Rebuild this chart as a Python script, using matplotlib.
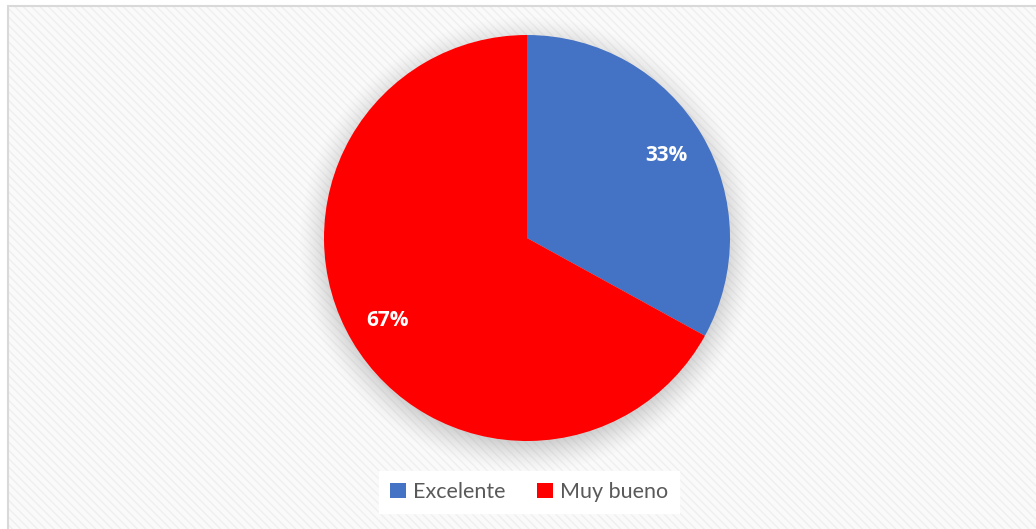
import numpy as np
import matplotlib.pyplot as plt
from matplotlib.patches import Rectangle

categorias = ['Excelente', 'Muy bueno']
porcentajes = [33, 67]
colores = ['#4472C4', '#FF0000']

fig = plt.figure(figsize=(10.36, 5.29), dpi=100)
fig.patch.set_facecolor('white')

# fondo con textura y borde del área del gráfico
fondo = Rectangle((8 / 1036, -0.02), 1.05, 1 - 6 / 529 + 0.02, transform=fig.transFigure,
                  facecolor='#fafafa', edgecolor='#efefef', hatch='\\\\\\\\', lw=0, zorder=-2)
fig.patches.append(fondo)
borde = Rectangle((8 / 1036, -0.02), 1.05, 1 - 6 / 529 + 0.02, transform=fig.transFigure,
                  facecolor='none', edgecolor='#d9d9d9', lw=1.5, zorder=-1)
fig.patches.append(borde)

r = 203
cx, cy = 527, 529 - 238
ax = fig.add_axes([(cx - 250) / 1036, (cy - 250) / 529, 500 / 1036, 500 / 529])
ax.set_zorder(2)
ax.patch.set_visible(False)
ax.axis('off')

# sombra difusa alrededor del pastel
g = np.linspace(-250 / r, 250 / r, 400)
X, Y = np.meshgrid(g, g)
d = np.sqrt(X ** 2 + (Y + 0.03) ** 2)
a = np.clip((1.13 - d) / 0.15, 0, 1) ** 1.4 * 0.3
sombra = np.zeros((400, 400, 4))
sombra[..., :3] = 0.45
sombra[..., 3] = a
ax.imshow(sombra, extent=(-250 / r, 250 / r, -250 / r, 250 / r), origin='lower',
          zorder=1, interpolation='bilinear')

cunas, textos, autotextos = ax.pie(porcentajes, colors=colores, startangle=90, counterclock=False,
                                   autopct='%1.0f%%', pctdistance=0.8, radius=1,
                                   wedgeprops=dict(linewidth=0),
                                   textprops=dict(color='white', fontsize=15, fontweight='bold',
                                                  family=['Open Sans', 'DejaVu Sans']))
for w in cunas:
    w.set_zorder(2)
for t in autotextos:
    t.set_zorder(3)
ax.set_aspect('equal')
ax.set_xlim(-250 / r, 250 / r)
ax.set_ylim(-250 / r, 250 / r)

ley = fig.legend(cunas, categorias, loc='center', bbox_to_anchor=(529 / 1036, 1 - 492 / 529),
                 ncol=2, frameon=True, fancybox=False, edgecolor='white', facecolor='white',
                 framealpha=1, handlelength=0.75, handleheight=0.75, handletextpad=0.3,
                 columnspacing=1.5, borderpad=0.5,
                 prop=dict(family=['Lato', 'DejaVu Sans'], size=15.5))
ley.set_zorder(5)
for t in ley.get_texts():
    t.set_color('#595959')

fig.savefig('out.png', dpi=100)
